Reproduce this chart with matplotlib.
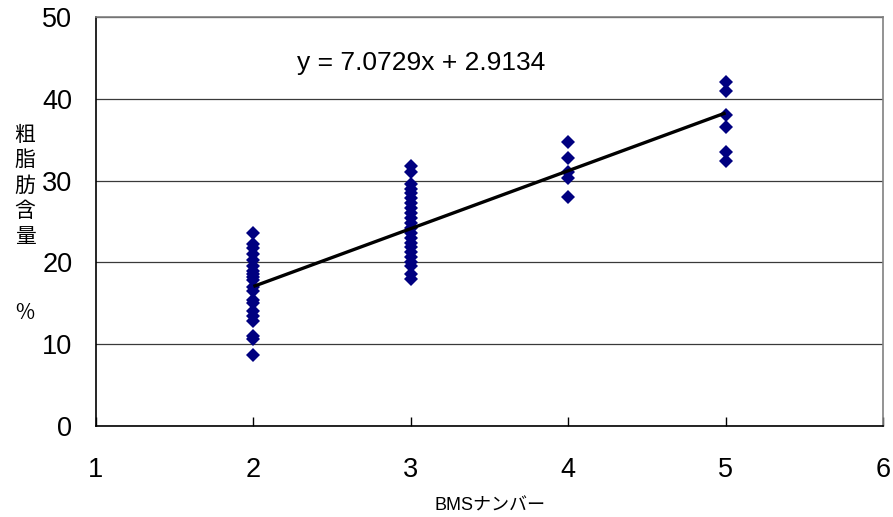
import matplotlib
matplotlib.use("Agg")
import matplotlib.pyplot as plt
import numpy as np

plt.rcParams['font.family'] = ['Liberation Sans', 'Noto Sans CJK JP', 'DejaVu Sans']

# data
bms_2 = [23.6, 22.3, 21.8, 21.0, 20.3, 19.5, 19.0, 18.6, 18.2, 17.8, 17.0,
         16.5, 15.4, 15.0, 14.0, 13.5, 12.8, 11.0, 10.6, 8.7]
bms_3 = [31.8, 31.0, 29.6, 29.0, 28.5, 27.9, 27.3, 26.6, 26.0, 25.4, 24.8,
         24.2, 23.6, 23.0, 22.4, 21.9, 21.3, 20.7, 20.1, 19.5, 18.6, 18.0]
bms_4 = [34.7, 32.8, 31.0, 30.3, 28.0]
bms_5 = [42.0, 41.0, 38.0, 36.6, 33.5, 32.4]
groups = {2: bms_2, 3: bms_3, 4: bms_4, 5: bms_5}

slope = 7.0729
intercept = 2.9134

x_ticks = [1, 2, 3, 4, 5, 6]
y_ticks = [0, 10, 20, 30, 40, 50]
ylabel_chars = ['粗', '脂', '肪', '含', '量', '', '', '%']
xlabel_text = 'BMSナンバー'

fig = plt.figure(figsize=(8.93, 5.17), dpi=100)
ax = fig.add_axes([96/893, 91/517, (883-96)/893, (426-17)/517])

xs = []
ys = []
for k, vals in groups.items():
    xs += [k] * len(vals)
    ys += vals
ax.plot(xs, ys, linestyle='none', marker='D', markersize=7,
        color='#000080', markeredgewidth=0, zorder=3)

xl = np.array([min(groups), max(groups)])
ax.plot(xl, slope * xl + intercept, color='black', linewidth=2.4, zorder=4,
        solid_capstyle='butt')

ax.set_xlim(1, 6)
ax.set_ylim(0, 50)
ax.set_xticks(x_ticks)
ax.set_yticks(y_ticks)
ax.grid(axis='y', color='#3a3a3a', linewidth=0.9)
ax.set_axisbelow(True)

for s in ['left', 'bottom']:
    ax.spines[s].set_color('black')
    ax.spines[s].set_linewidth(1.2)
for s in ['top', 'right']:
    ax.spines[s].set_color('#808080')
    ax.spines[s].set_linewidth(1.2)

ax.tick_params(axis='x', direction='in', length=6.5, width=1, pad=22,
               labelsize=19.5, top=False)
ax.tick_params(axis='y', direction='in', length=0, pad=17, labelsize=19.5)

fig.text(297/893, 1 - 63/517, f'y = {slope}x + {intercept}', fontsize=19,
         ha='left', va='center')

fig.text((96+883)/2/893, 1 - 506/517, xlabel_text, fontsize=13,
         ha='center', va='center')

top_y = 135
step = (313 - 135) / 7
for i, ch in enumerate(ylabel_chars):
    if ch:
        fig.text(25/893, 1 - (top_y + i*step)/517, ch, fontsize=15,
                 ha='center', va='center',
                 family=['Noto Sans CJK JP', 'DejaVu Sans'])

fig.savefig('out.png', dpi=100)
